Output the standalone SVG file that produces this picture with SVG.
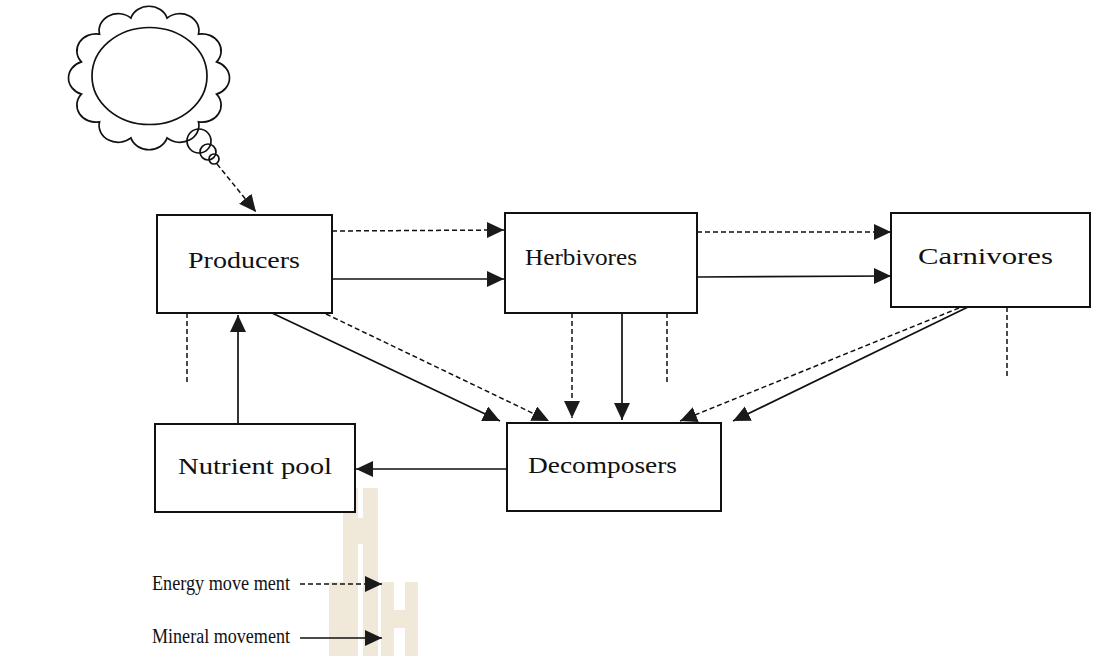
<svg xmlns="http://www.w3.org/2000/svg" width="1101" height="656" viewBox="0 0 1101 656">
<defs>
<marker id="ah" markerUnits="userSpaceOnUse" markerWidth="18" markerHeight="18" refX="17" refY="8" orient="auto">
<path d="M0,0 L17,8 L0,16 z" fill="#1a1a1a"/>
</marker>
<style>
.box{fill:#fff;stroke:#111;stroke-width:2}
.lbl{font-family:"Liberation Serif","Times New Roman",serif;font-size:24px;fill:#111}
.leg{font-family:"Liberation Serif","Times New Roman",serif;font-size:20px;fill:#111}
.s{stroke:#111;stroke-width:1.7;fill:none}
.d{stroke:#111;stroke-width:1.5;fill:none;stroke-dasharray:5 3}
.wm{fill:#F0E8D8}
</style>
</defs>
<rect width="1101" height="656" fill="#fff"/>
<g id="watermark">
<rect class="wm" x="343" y="488" width="15" height="168"/>
<rect class="wm" x="363" y="488" width="15" height="168"/>
<rect class="wm" x="357" y="518" width="7" height="26"/>
<rect class="wm" x="329" y="582" width="14" height="74"/>
<rect class="wm" x="381" y="582" width="13" height="74"/>
<rect class="wm" x="405" y="582" width="13" height="74"/>
<rect class="wm" x="393" y="610" width="13" height="18"/>
</g>
<g id="thought">
<path class="s" d="M216.6 94.1 A19 17 0 0 1 198.5 121.8 A19 17 0 0 1 167.1 137.9 A19 17 0 0 1 130.9 137.9 A19 17 0 0 1 99.5 121.8 A19 17 0 0 1 81.4 94.1 A19 17 0 0 1 81.4 61.9 A19 17 0 0 1 99.5 34.2 A19 17 0 0 1 130.9 18.1 A19 17 0 0 1 167.1 18.1 A19 17 0 0 1 198.5 34.2 A19 17 0 0 1 216.6 61.9 A19 17 0 0 1 216.6 94.1 Z" fill="#fff"/>
<ellipse class="s" cx="149.5" cy="76" rx="57.5" ry="48.5" fill="#fff"/>
<circle class="s" cx="199" cy="141" r="12" fill="#fff"/>
<circle class="s" cx="208" cy="152" r="8" fill="#fff"/>
<circle class="s" cx="214" cy="159" r="5" fill="#fff"/>
</g>
<g id="connectors">
<line class="d" x1="217" y1="164" x2="256" y2="212" marker-end="url(#ah)"/>
<line class="d" x1="332" y1="231" x2="504" y2="230" marker-end="url(#ah)"/>
<line class="s" x1="332" y1="279" x2="504" y2="279" marker-end="url(#ah)"/>
<line class="d" x1="697" y1="232" x2="891" y2="232" marker-end="url(#ah)"/>
<line class="s" x1="697" y1="277" x2="891" y2="276" marker-end="url(#ah)"/>
<line class="d" x1="187" y1="313" x2="187" y2="383"/>
<line class="s" x1="238" y1="424" x2="238" y2="315" marker-end="url(#ah)"/>
<line class="s" x1="272" y1="313" x2="500" y2="421" marker-end="url(#ah)"/>
<line class="d" x1="326" y1="314" x2="549" y2="421" marker-end="url(#ah)"/>
<line class="d" x1="572" y1="313" x2="572" y2="418" marker-end="url(#ah)"/>
<line class="s" x1="622" y1="313" x2="622" y2="420" marker-end="url(#ah)"/>
<line class="d" x1="667" y1="313" x2="667" y2="383"/>
<line class="d" x1="959" y1="308" x2="680" y2="421" marker-end="url(#ah)"/>
<line class="s" x1="968" y1="307" x2="733" y2="421" marker-end="url(#ah)"/>
<line class="d" x1="1007" y1="307" x2="1007" y2="378"/>
<line class="s" x1="507" y1="469" x2="356" y2="469" marker-end="url(#ah)"/>
<line class="d" x1="300" y1="584" x2="382" y2="584" marker-end="url(#ah)"/>
<line class="s" x1="300" y1="638" x2="382" y2="638" marker-end="url(#ah)"/>
</g>
<g id="producers">
<rect class="box" x="157" y="215" width="175" height="98"/>
<text class="lbl" x="188" y="268" textLength="112" lengthAdjust="spacingAndGlyphs">Producers</text>
</g>
<g id="herbivores">
<rect class="box" x="505" y="213" width="192" height="100"/>
<text class="lbl" x="525" y="265" textLength="112" lengthAdjust="spacingAndGlyphs">Herbivores</text>
</g>
<g id="carnivores">
<rect class="box" x="891" y="213" width="199" height="94"/>
<text class="lbl" x="918" y="264" textLength="135" lengthAdjust="spacingAndGlyphs">Carnivores</text>
</g>
<g id="nutrient-pool">
<rect class="box" x="155" y="424" width="200" height="88"/>
<text class="lbl" x="178" y="474" textLength="154" lengthAdjust="spacingAndGlyphs">Nutrient pool</text>
</g>
<g id="decomposers">
<rect class="box" x="507" y="423" width="214" height="88"/>
<text class="lbl" x="528" y="473" textLength="149" lengthAdjust="spacingAndGlyphs">Decomposers</text>
</g>
<g id="legend">
<text class="leg" x="152" y="590" textLength="138" lengthAdjust="spacingAndGlyphs">Energy move ment</text>
<text class="leg" x="152" y="643" textLength="138" lengthAdjust="spacingAndGlyphs">Mineral movement</text>
</g>
</svg>
